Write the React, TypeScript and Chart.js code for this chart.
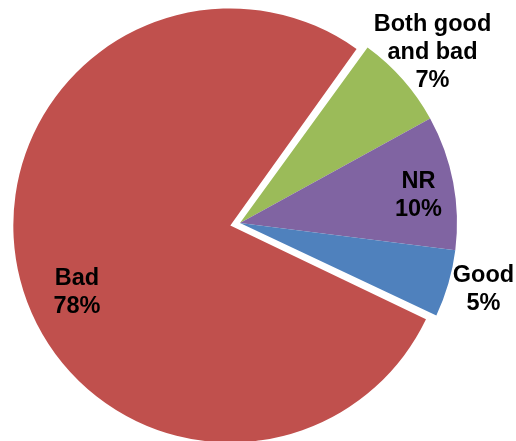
import React, { useEffect, useRef } from "react";
import { Chart, registerables } from "chart.js";

Chart.register(...registerables);

const categories: string[] = ["Both good and bad", "NR", "Good", "Bad"];
const labelLines: string[][] = [["Both good", "and bad"], ["NR"], ["Good"], ["Bad"]];
const percentages: number[] = [7, 10, 5, 78];
const colors: string[] = ["#9BBB59", "#8064A2", "#4F81BD", "#C0504D"];

const PIE_RADIUS = 217;
// explosion distance in pixels for each slice
const explodePx: number[] = [0, 0, 0, 10];

// label placement: radius factor relative to outer radius, angle nudge in degrees
const labelRadius: number[] = [1.19, 0.834, 1.161, 0.768];
const labelAngleShift: number[] = [-0.4, 1.3, -1.3, -8.6];

// Chart.js translates an arc by offset/4 and also grows large arcs by that amount;
// keep every slice at the same radius.
const radiusFixPlugin = {
  id: "radiusFix",
  afterDatasetsUpdate(chart: any) {
    const meta = chart.getDatasetMeta(0);
    meta.data.forEach((arc: any, i: number) => {
      const ex = explodePx[i] || 0;
      if (!ex) return;
      const circ = arc.endAngle - arc.startAngle;
      const fix = 1 - Math.sin(Math.min(Math.PI, circ));
      arc.outerRadius = PIE_RADIUS - ex * fix;
    });
  },
};

const labelPlugin = {
  id: "pieLabels",
  afterDatasetsDraw(chart: any) {
    const meta = chart.getDatasetMeta(0);
    const ctx = chart.ctx;
    ctx.save();
    ctx.font = "bold 23.5px 'Liberation Sans', Arial, sans-serif";
    ctx.fillStyle = "#000";
    ctx.textAlign = "center";
    ctx.textBaseline = "middle";
    const lineH = 28;
    meta.data.forEach((arc: any, i: number) => {
      const mid = (arc.startAngle + arc.endAngle) / 2;
      const off = explodePx[i] || 0;
      const cx = arc.x + Math.cos(mid) * off;
      const cy = arc.y + Math.sin(mid) * off;
      const a = mid + (labelAngleShift[i] * Math.PI) / 180;
      const r = PIE_RADIUS * labelRadius[i];
      const lx = cx + Math.cos(a) * r;
      const ly = cy + Math.sin(a) * r;
      const lines = [...labelLines[i], `${percentages[i]}%`];
      const top = ly - ((lines.length - 1) * lineH) / 2;
      lines.forEach((t, j) => ctx.fillText(t, lx, top + j * lineH + 2));
    });
    ctx.restore();
  },
};

export default function App() {
  const ref = useRef<HTMLCanvasElement | null>(null);
  useEffect(() => {
    if (!ref.current) return;
    const chart = new Chart(ref.current, {
      type: "pie",
      data: {
        labels: categories,
        datasets: [
          {
            data: percentages,
            backgroundColor: colors,
            borderWidth: 0,
            offset: explodePx.map((v) => v * 4),
            radius: PIE_RADIUS,
            clip: false as any,
          } as any,
        ],
      },
      options: {
        animation: false,
        responsive: false,
        rotation: 36,
        layout: { padding: { left: 0, right: 36, top: 5, bottom: 0 } },
        plugins: {
          legend: { display: false },
          tooltip: { enabled: false },
          title: { display: false },
        },
      },
      plugins: [radiusFixPlugin, labelPlugin],
    });
    return () => chart.destroy();
  }, []);
  return (
    <div style={{ position: "absolute", left: 0, top: 0, width: 516, height: 441, background: "#fff" }}>
      <canvas ref={ref} width={516} height={441} style={{ display: "block" }} />
    </div>
  );
}
